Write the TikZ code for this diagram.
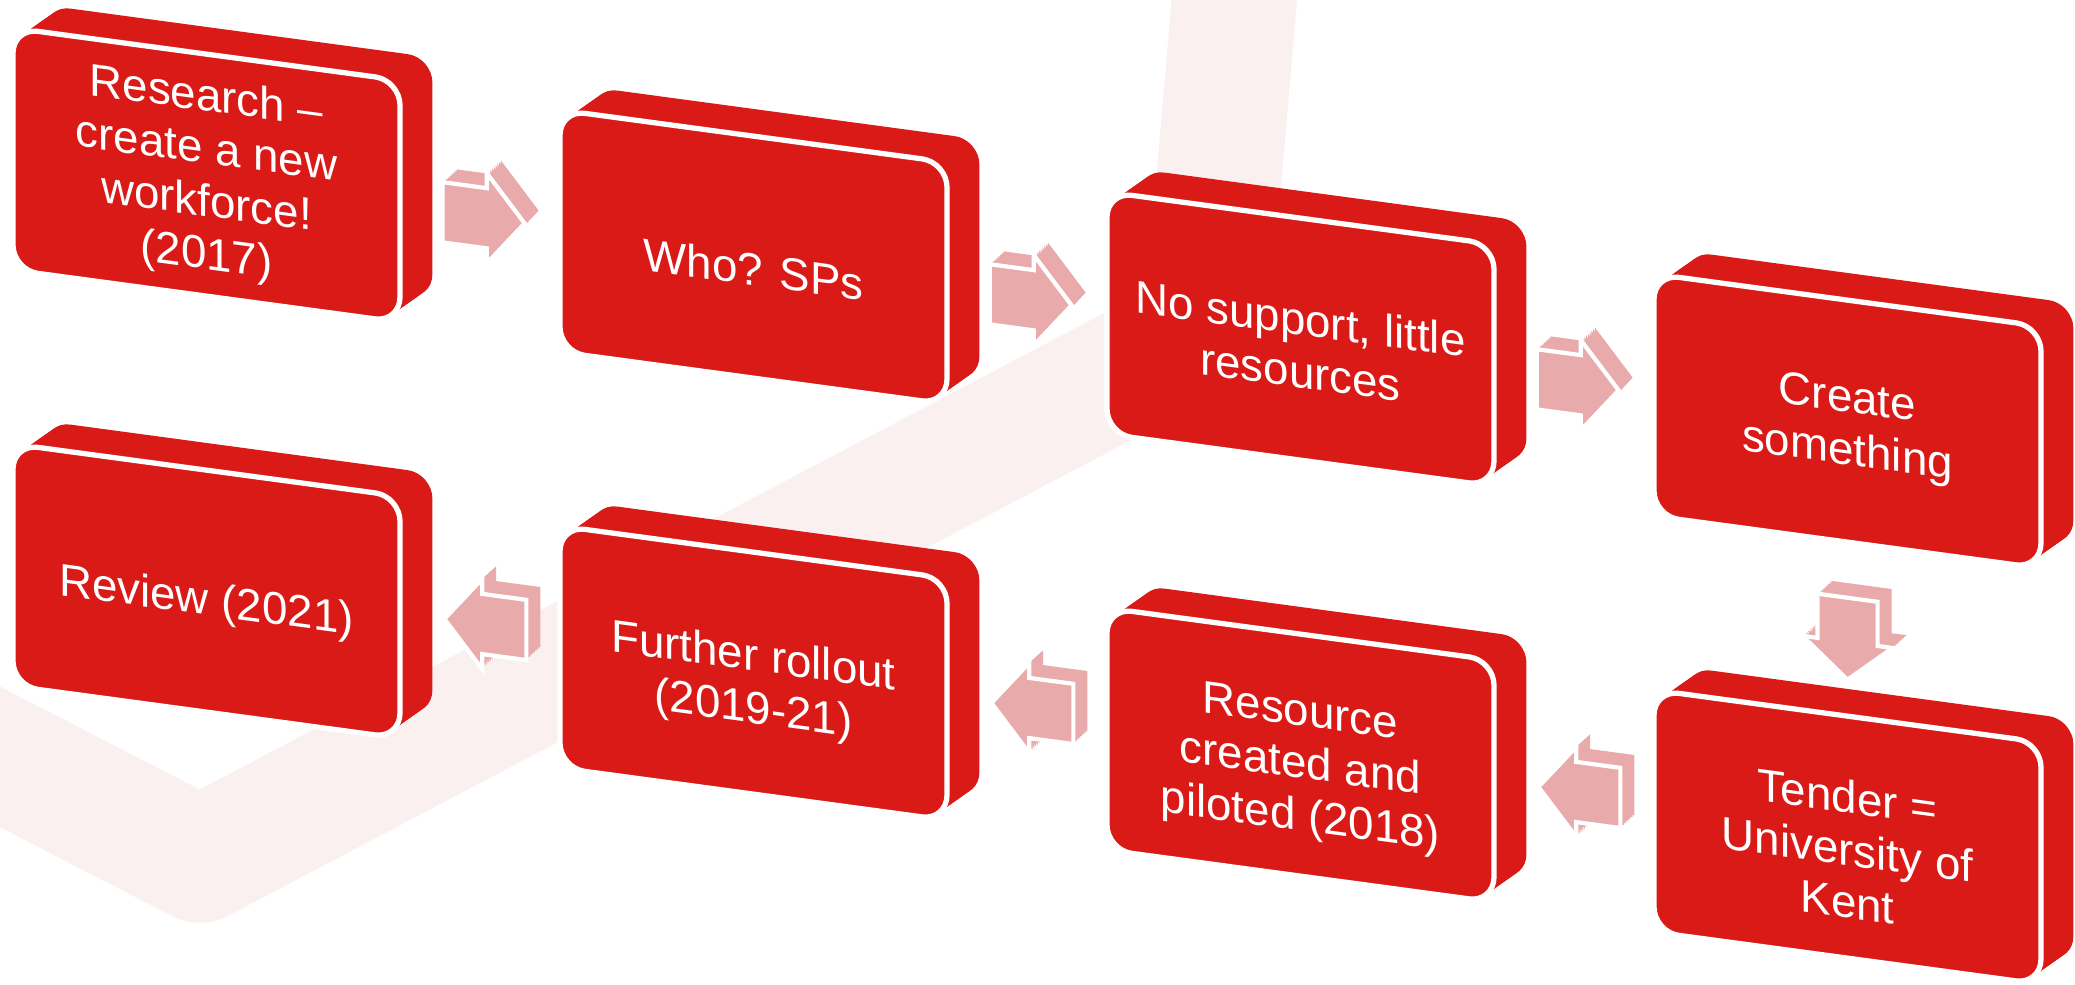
\documentclass[tikz,border=0pt]{standalone}
\usepackage{fontspec}
\setmainfont{Liberation Sans}
\usetikzlibrary{shapes.arrows, calc}
\definecolor{BoxRed}{HTML}{DA1A16}
\definecolor{ArrowPink}{HTML}{E8AAAA}
\definecolor{BandPink}{HTML}{F9F0EF}
\tikzset{
  % Depth of the 3D pieces
  slabdepth/.style={preaction={fill=BoxRed, transform canvas={shift={(#1*0.027,#1*0.019)}}}},
  arrowdepth/.style={preaction={fill=ArrowPink, transform canvas={shift={(#1*0.0175,#1*0.016)}}}},
  % Box styles
  slab/.style={rectangle, rounded corners=0.25cm, fill=BoxRed, draw=white, line width=1.5pt, minimum width=3.87cm, minimum height=2.42cm, inner sep=0pt, outer sep=0pt, anchor=north west, yslant=-0.135, slabdepth/.list={1,...,12}},
  slabtext/.style={yslant=-0.135, text=white, align=center, inner sep=0pt, font=\fontsize{13}{15}\selectfont},
  % Arrow styles
  blockarrow/.style={single arrow, fill=ArrowPink, draw=white, line width=1.2pt, minimum height=0.82cm, minimum width=0.86cm, inner xsep=0.2cm, inner ysep=0.28cm, single arrow head extend=0.15cm, single arrow tip angle=100, yslant=-0.135, arrowdepth/.list={1,...,8}},
  % Background band
  band/.style={line width=1.25cm, BandPink, line join=round}
}
\begin{document}
\begin{tikzpicture}
  \useasboundingbox (0,0) rectangle (20.75,-9.84);

  % Background band
  \begin{scope}
    \clip (0,0) rectangle (20.75,-9.84);
    \draw[band] (12.36,0.2) -- (12.06,-3.3) -- (2.0,-8.6) -- (-1.2,-6.95);
  \end{scope}

  % Top row
  \node[slab] (b1) at (0.13,-0.28) {};
  \node[slab] (b2) at (5.60,-1.10) {};
  \node[slab] (b3) at (11.07,-1.92) {};
  \node[slab] (b4) at (16.54,-2.74) {};
  \node[slabtext] (t1) at ($(b1.center)+(0,-0.03)$) {Research --\\create a new\\workforce!\\(2017)};
  \node[slabtext] (t2) at ($(b2.center)+(0,-0.12)$) {Who? SPs};
  \node[slabtext] (t3) at ($(b3.center)+(0,-0.06)$) {No support, little\\resources};
  \node[slabtext] (t4) at ($(b4.center)+(0,-0.06)$) {Create\\something};

  % Bottom row
  \node[slab] (b5) at (16.54,-6.90) {};
  \node[slab] (b6) at (11.07,-6.08) {};
  \node[slab] (b7) at (5.60,-5.26) {};
  \node[slab] (b8) at (0.13,-4.44) {};
  \node[slabtext] (t5) at ($(b5.center)+(0,-0.12)$) {Tender =\\University of\\Kent};
  \node[slabtext] (t6) at ($(b6.center)+(0,-0.12)$) {Resource\\created and\\piloted (2018)};
  \node[slabtext] (t7) at ($(b7.center)+(0,-0.12)$) {Further rollout\\(2019-21)};
  \node[slabtext] (t8) at ($(b8.center)+(0,-0.12)$) {Review (2021)};

  % Arrows
  \node[blockarrow] (a1) at ($(b1.east)!0.5!(b2.west)+(-0.09,0)$) {};
  \node[blockarrow] (a2) at ($(b2.east)!0.5!(b3.west)+(-0.09,0)$) {};
  \node[blockarrow] (a3) at ($(b3.east)!0.5!(b4.west)+(-0.09,-0.03)$) {};
  \node[blockarrow, rotate=-90] (a4) at ($(b4.south)!0.5!(b5.north)+(0,0.03)$) {};
  \node[blockarrow, rotate=180] (a5) at ($(b5.west)!0.5!(b6.east)+(0.18,0.02)$) {};
  \node[blockarrow, rotate=180] (a6) at ($(b6.west)!0.5!(b7.east)+(0.18,0.04)$) {};
  \node[blockarrow, rotate=180] (a7) at ($(b7.west)!0.5!(b8.east)+(0.18,0.06)$) {};
\end{tikzpicture}
\end{document}
